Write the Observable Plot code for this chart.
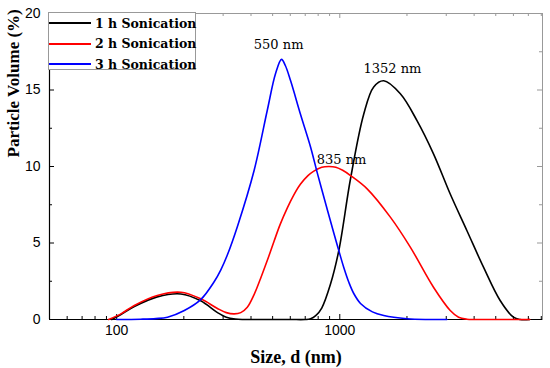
<!DOCTYPE html>
<html>
<head>
<meta charset="utf-8">
<script src="https://cdn.jsdelivr.net/npm/d3@7"></script>
<script src="https://cdn.jsdelivr.net/npm/@observablehq/plot@0.6"></script>
<style>
  html, body { margin: 0; padding: 0; background: #fff; }
  #wrap { position: relative; width: 550px; height: 368px; }
  #legend { position: absolute; left: 48px; top: 12px; width: 148px; height: 58px;
            border: 1px solid #999; background: #fff; box-sizing: border-box; }
  .row { position: absolute; left: 0; height: 20px; display: flex; align-items: center; }
  .row span { font-family: "DejaVu Serif", serif; font-weight: bold; font-size: 12.5px; color: #000; margin-left: 4px; white-space: nowrap; }
</style>
</head>
<body>
<div id="wrap"></div>
<script>
// ---- data ----
const seriesNames = ["1 h Sonication", "2 h Sonication", "3 h Sonication"];
const seriesColors = ["#000000", "#ff0000", "#0000ff"];

const size1h = [95, 104.5, 120, 152, 194, 238, 283, 310, 340, 370, 450, 600, 700, 740, 780, 830, 908, 990, 1117, 1279, 1419, 1574, 1868, 2218, 2630, 3126, 3715, 4406, 5232, 6000, 6425, 7100];
const vol1h  = [0, 0.33, 0.85, 1.48, 1.67, 1.22, 0.45, 0.15, 0.03, 0, 0, 0, 0, 0.05, 0.25, 0.75, 2.3, 4.51, 9.2, 13.4, 15.2, 15.6, 14.75, 13.0, 10.83, 8.2, 5.8, 3.42, 1.24, 0.15, 0, 0];

const size2h = [92, 104.5, 120, 152, 194, 238, 283, 310, 336, 360, 385, 413, 442, 473, 507, 540, 582, 620, 667, 720, 765, 830, 894, 960, 1030, 1117, 1326, 1685, 2070, 2630, 3126, 3407, 3715, 4000, 5000, 6000, 7100];
const vol2h  = [0, 0.37, 0.92, 1.57, 1.78, 1.35, 0.72, 0.45, 0.37, 0.45, 0.8, 1.63, 2.7, 3.85, 5.1, 6.2, 7.3, 8.1, 8.85, 9.4, 9.7, 9.95, 10.0, 9.95, 9.75, 9.41, 8.54, 6.69, 4.73, 2.11, 0.59, 0.15, 0.02, 0, 0, 0, 0];

const size3h = [100, 128, 150, 169, 201, 238, 273, 293, 313, 348, 413, 473, 515, 548, 570, 602, 667, 740, 792, 867, 940, 990, 1042, 1100, 1155, 1238, 1400, 1574, 2000, 2500, 3020];
const vol3h  = [0, 0.02, 0.06, 0.15, 0.59, 1.3, 2.45, 3.25, 4.2, 6.1, 9.74, 13.66, 16.06, 17.0, 16.6, 15.6, 13.4, 11.26, 9.6, 7.5, 5.65, 4.5, 3.4, 2.4, 1.7, 1.05, 0.5, 0.26, 0.05, 0, 0];

const peakLabels = ["550 nm", "835 nm", "1352 nm"];
const peakX = [532, 1018, 1721];
const peakY = [17.0, 10.0, 15.6];
const peakDy = [-10, -3, -8];

const xDomain = [50, 8100];
const yDomain = [0, 20];
const xMajor = [100, 1000];
const xMinor = [60, 70, 80, 90, 200, 300, 400, 500, 600, 700, 800, 900, 2000, 3000, 4000, 5000, 6000, 7000, 8000];
const yMajor = [0, 5, 10, 15, 20];
const yMinor = [2.5, 7.5, 12.5, 17.5];

// ---- build tables ----
const sizes = [size1h, size2h, size3h];
const vols = [vol1h, vol2h, vol3h];
const rows = [];
seriesNames.forEach((s, i) => sizes[i].forEach((x, j) => rows.push({series: s, x, y: vols[i][j]})));
const peaks = peakLabels.map((t, i) => ({t, x: peakX[i], y: peakY[i], dy: peakDy[i]}));

const W = 550, H = 368, mt = 13, mb = 49, ml = 49, mr = 8;
const ph = H - mt - mb, pw = W - ml - mr;
const sans = "Liberation Sans, Arial, sans-serif";
const serif = "DejaVu Serif, serif";

const peakMarks = peaks.map(p => Plot.text([p], {x: "x", y: "y", text: "t", lineAnchor: "bottom", dy: p.dy, fontFamily: serif, fontSize: 13, fill: "#000"}));

const plot = Plot.plot({
  width: W, height: H,
  marginTop: mt, marginBottom: mb, marginLeft: ml, marginRight: mr,
  style: {background: "#fff", fontFamily: sans},
  x: {type: "log", domain: xDomain},
  y: {domain: yDomain},
  color: {domain: seriesNames, range: seriesColors},
  marks: [
    Plot.frame({stroke: "#999", strokeWidth: 1}),
    // bottom ticks (inward)
    Plot.tickX(xMajor, {x: d => d, insetTop: ph - 5, stroke: "#000"}),
    Plot.tickX(xMinor, {x: d => d, insetTop: ph - 3, stroke: "#000"}),
    // top ticks (inward, gray)
    Plot.tickX(xMajor, {x: d => d, insetBottom: ph - 5, stroke: "#999"}),
    Plot.tickX(xMinor, {x: d => d, insetBottom: ph - 3, stroke: "#999"}),
    // left ticks
    Plot.tickY(yMajor, {y: d => d, insetRight: pw - 5, stroke: "#000"}),
    Plot.tickY(yMinor, {y: d => d, insetRight: pw - 3, stroke: "#000"}),
    // right ticks
    Plot.tickY(yMajor, {y: d => d, insetLeft: pw - 5, stroke: "#999"}),
    Plot.tickY(yMinor, {y: d => d, insetLeft: pw - 3, stroke: "#999"}),
    Plot.ruleX([xDomain[0]], {stroke: "#000", strokeWidth: 1.2}),
    Plot.ruleY([yDomain[0]], {stroke: "#000", strokeWidth: 1.2}),
    Plot.axisX(xMajor, {tickSize: 0, tickPadding: 6, fontSize: 14, fontFamily: sans, fill: "#000", label: null, tickFormat: d => String(d)}),
    Plot.axisY(yMajor, {tickSize: 0, tickPadding: 9, fontSize: 14, fontFamily: sans, fill: "#000", label: null}),
    Plot.line(rows, {x: "x", y: "y", z: "series", stroke: "series", strokeWidth: 1.6, curve: "catmull-rom"}),
    ...peakMarks,
    Plot.text(["Size, d (nm)"], {frameAnchor: "bottom", dy: 43, text: d => d, fontFamily: "Liberation Serif, serif", fontWeight: "bold", fontSize: 18, fill: "#000", lineAnchor: "bottom"}),
    Plot.text(["Particle Volume (%)"], {frameAnchor: "left", dx: -36, dy: -9, rotate: -90, text: d => d, fontFamily: "Liberation Serif, serif", fontWeight: "bold", fontSize: 17, fill: "#000"})
  ]
});

const wrap = document.getElementById("wrap");
wrap.appendChild(plot);

// legend
const legend = document.createElement("div");
legend.id = "legend";
seriesNames.forEach((s, i) => {
  const r = document.createElement("div");
  r.className = "row";
  r.style.top = (i * 20.5) + "px";
  r.innerHTML = `<svg width="42" height="4"><line x1="0" y1="2" x2="42" y2="2" stroke="${seriesColors[i]}" stroke-width="1.8"/></svg><span>${s}</span>`;
  legend.appendChild(r);
});
wrap.appendChild(legend);
</script>
</body>
</html>
